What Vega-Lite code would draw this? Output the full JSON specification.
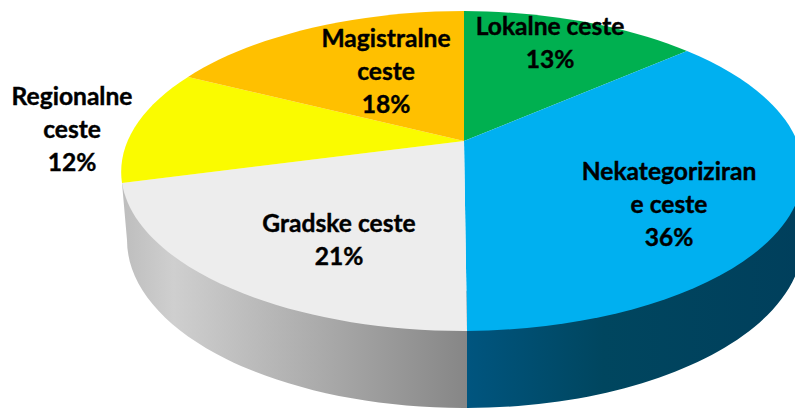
{
"$schema":"https://vega.github.io/schema/vega-lite/v6.json",
"width":795,"height":408,"padding":0,"autosize":{"type":"none"},
"background":"white",
"config":{"view":{"stroke":null}},
"datasets":{"roads":[
{"name":"Lokalne ceste","share":13,"label":"Lokalne ceste\n13%"},
{"name":"Nekategorizirane ceste","share":36,"label":"Nekategoriziran\ne ceste\n36%"},
{"name":"Gradske ceste","share":21,"label":"Gradske ceste\n21%"},
{"name":"Regionalne ceste","share":12,"label":"Regionalne\nceste\n12%"},
{"name":"Magistralne ceste","share":18,"label":"Magistralne\nceste\n18%"}
]},
"data":{"name":"roads"},
"resolve":{"scale":{"x":"independent","y":"independent","shape":"independent","color":"independent"}},
"layer":[
{"transform":[{"filter":"datum.share==21"}],
 "mark":{"type":"point","filled":true,"opacity":1,"size":4,"strokeWidth":0,"fill":{"gradient":"linear","x1":0,"y1":0,"x2":1,"y2":0,"stops":[{"offset":0,"color":"#bdbdbd"},{"offset":0.15,"color":"#cfcfcf"},{"offset":1,"color":"#868686"}]},"shape":"M3 150 L3 267 A338 168 0 0 1 -337 99 L-342 42 L-200 42 Z"},
 "encoding":{
  "x":{"field":"share","type":"quantitative","axis":null,"scale":{"domain":[12,36],"range":[464,464],"zero":false,"nice":false}},
  "y":{"field":"share","type":"quantitative","axis":null,"scale":{"domain":[12,36],"range":[141,141],"zero":false,"nice":false}}}},
{"transform":[{"filter":"datum.share==36"}],
 "mark":{"type":"point","filled":true,"opacity":1,"size":4,"strokeWidth":0,"fill":{"gradient":"linear","x1":0,"y1":0,"x2":1,"y2":0,"stops":[{"offset":0,"color":"#00557f"},{"offset":0.4,"color":"#00465f"},{"offset":1,"color":"#003f5c"}]},"shape":"M3 150 L200 30 L344 30 L339 99 A338 168 0 0 1 3 267 Z"},
 "encoding":{
  "x":{"field":"share","type":"quantitative","axis":null,"scale":{"domain":[12,36],"range":[464,464],"zero":false,"nice":false}},
  "y":{"field":"share","type":"quantitative","axis":null,"scale":{"domain":[12,36],"range":[141,141],"zero":false,"nice":false}}}},
{"mark":{"type":"point","filled":true,"opacity":1,"size":4,"strokeWidth":0},
 "encoding":{
  "x":{"field":"share","type":"quantitative","axis":null,"scale":{"domain":[12,36],"range":[464,464],"zero":false,"nice":false}},
  "y":{"field":"share","type":"quantitative","axis":null,"scale":{"domain":[12,36],"range":[141,141],"zero":false,"nice":false}},
  "shape":{"field":"name","type":"nominal","legend":null,"scale":{
    "domain":["Lokalne ceste","Nekategorizirane ceste","Gradske ceste","Regionalne ceste","Magistralne ceste"],
    "range":["M0 0 L0 -130 A343 160 0 0 1 223 -90 Z","M0 0 L223 -90 A343 160 0 0 1 3 190 Z","M0 0 L3 190 A343 160 0 0 1 -342 42 Z","M0 0 L-342 42 A343 160 0 0 1 -276 -64 Z","M0 0 L-276 -64 A343 160 0 0 1 0 -130 Z"]}},
  "color":{"field":"name","type":"nominal","legend":null,"scale":{
    "domain":["Lokalne ceste","Nekategorizirane ceste","Gradske ceste","Regionalne ceste","Magistralne ceste"],
    "range":["#00B050","#00B0F0","#EDEDED","#FAFB00","#FFC000"]}}}},
{"mark":{"type":"text","font":"Lato","fontWeight":"bold","fontSize":24.6,"lineHeight":33,"lineBreak":"\n","align":"center","baseline":"middle","color":"black","stroke":"black","strokeWidth":0.4},
 "encoding":{
  "x":{"field":"share","type":"quantitative","axis":null,"scale":{"domain":[12,13,18,21,36],"range":[72,550,386,339,669],"zero":false,"nice":false}},
  "y":{"field":"share","type":"quantitative","axis":null,"scale":{"domain":[12,13,18,21,36],"range":[98,28,40,225,173],"zero":false,"nice":false}},
  "text":{"field":"label","type":"nominal"}}}
]}
